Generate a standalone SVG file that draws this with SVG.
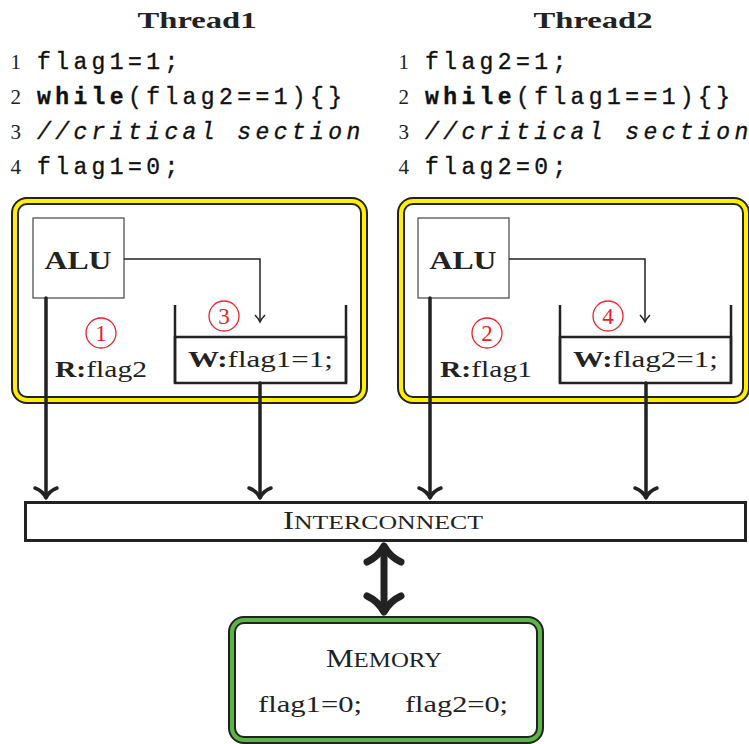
<svg xmlns="http://www.w3.org/2000/svg" width="749" height="744" viewBox="0 0 749 744">
<style>
.title{font-family:"Liberation Serif",serif;font-weight:bold;font-size:23px;fill:#222}
.ln{font-family:"Liberation Serif",serif;font-size:21px;fill:#222;text-anchor:end}
.code{font-family:"Liberation Mono",monospace;font-size:23px;letter-spacing:4.4px;fill:#111;stroke:#111;stroke-width:0.35}
.kw{font-weight:bold}
.cm{font-style:italic}
.lbl{font-family:"Liberation Serif",serif;font-size:23px;fill:#222}
.b{font-weight:bold}
.alu{font-family:"Liberation Serif",serif;font-weight:bold;font-size:25px;fill:#222}
.num{font-family:"Liberation Serif",serif;font-size:23px;fill:#e8202a;text-anchor:middle}
.circ{fill:none;stroke:#e8202a;stroke-width:1.3}
.outer{fill:none;stroke:#222;stroke-width:8}
.yel{fill:none;stroke:#fff000;stroke-width:4}
.grn{fill:none;stroke:#5ab546;stroke-width:4}
.alubox{fill:#fff;stroke:#444;stroke-width:1.2}
.buf{fill:none;stroke:#222;stroke-width:2.5}
.thin{fill:none;stroke:#222;stroke-width:1.5}
.thick{fill:none;stroke:#222;stroke-width:3.5;stroke-linecap:round;stroke-linejoin:round}
.huge{fill:none;stroke:#222;stroke-width:7;stroke-linecap:round;stroke-linejoin:round}
.sc{font-family:"Liberation Serif",serif;font-size:25px;fill:#222}
</style>
<rect width="749" height="744" fill="#fff"/>

<g id="thread1">
  <text class="title" x="197" y="28" text-anchor="middle" textLength="119" lengthAdjust="spacingAndGlyphs">Thread1</text>
  <text class="ln" x="21" y="69">1</text>
  <text class="code" x="37" y="69">flag1=1;</text>
  <text class="ln" x="21" y="104">2</text>
  <text class="code" x="37" y="104"><tspan class="kw">while</tspan>(flag2==1){}</text>
  <text class="ln" x="21" y="139">3</text>
  <text class="code cm" x="37" y="139">//critical section</text>
  <text class="ln" x="21" y="174">4</text>
  <text class="code" x="37" y="174">flag1=0;</text>
  <rect class="outer" x="15" y="201" width="349" height="199" rx="12"/>
  <rect class="yel" x="15" y="201" width="349" height="199" rx="12"/>
  <rect class="alubox" x="33" y="218" width="91" height="80"/>
  <text class="alu" x="78" y="269" text-anchor="middle" textLength="67" lengthAdjust="spacingAndGlyphs">ALU</text>
  <path class="buf" d="M175,305 V383 M346,305 V383"/>
  <rect class="buf" x="175" y="337" width="171" height="46"/>
  <text class="lbl" x="188" y="367" textLength="145" lengthAdjust="spacingAndGlyphs"><tspan class="b">W:</tspan>flag1=1;</text>
  <text class="lbl" x="55" y="377" textLength="92" lengthAdjust="spacingAndGlyphs"><tspan class="b">R:</tspan>flag2</text>
  <circle class="circ" cx="101" cy="333" r="15"/>
  <text class="num" x="101" y="341">1</text>
  <circle class="circ" cx="224" cy="316" r="15"/>
  <text class="num" x="224" y="324">3</text>
</g>

<g id="thread2">
  <text class="title" x="593" y="28" text-anchor="middle" textLength="119" lengthAdjust="spacingAndGlyphs">Thread2</text>
  <text class="ln" x="409" y="69">1</text>
  <text class="code" x="425" y="69">flag2=1;</text>
  <text class="ln" x="409" y="104">2</text>
  <text class="code" x="425" y="104"><tspan class="kw">while</tspan>(flag1==1){}</text>
  <text class="ln" x="409" y="139">3</text>
  <text class="code cm" x="425" y="139">//critical section</text>
  <text class="ln" x="409" y="174">4</text>
  <text class="code" x="425" y="174">flag2=0;</text>
  <rect class="outer" x="401" y="201" width="345" height="199" rx="12"/>
  <rect class="yel" x="401" y="201" width="345" height="199" rx="12"/>
  <rect class="alubox" x="418" y="218" width="91" height="80"/>
  <text class="alu" x="463" y="269" text-anchor="middle" textLength="67" lengthAdjust="spacingAndGlyphs">ALU</text>
  <path class="buf" d="M560,305 V383 M731,305 V383"/>
  <rect class="buf" x="560" y="337" width="171" height="46"/>
  <text class="lbl" x="573" y="367" textLength="145" lengthAdjust="spacingAndGlyphs"><tspan class="b">W:</tspan>flag2=1;</text>
  <text class="lbl" x="440" y="377" textLength="92" lengthAdjust="spacingAndGlyphs"><tspan class="b">R:</tspan>flag1</text>
  <circle class="circ" cx="487" cy="333" r="15"/>
  <text class="num" x="487" y="341">2</text>
  <circle class="circ" cx="608" cy="316" r="15"/>
  <text class="num" x="608" y="324">4</text>
</g>

<g id="interconnect">
  <rect x="25.5" y="502.5" width="720" height="38" fill="#fff" stroke="#222" stroke-width="3"/>
  <text class="sc" x="283" y="529" textLength="200" lengthAdjust="spacingAndGlyphs">I<tspan font-size="19.5">NTERCONNECT</tspan></text>
</g>

<g id="memory">
  <rect class="outer" x="232" y="620" width="308" height="120" rx="12"/>
  <rect class="grn" x="232" y="620" width="308" height="120" rx="12"/>
  <text class="sc" x="326" y="667" textLength="116" lengthAdjust="spacingAndGlyphs">M<tspan font-size="20">EMORY</tspan></text>
  <text class="lbl" x="258" y="712" textLength="104" lengthAdjust="spacingAndGlyphs">flag1=0;</text>
  <text class="lbl" x="405" y="712" textLength="103" lengthAdjust="spacingAndGlyphs">flag2=0;</text>
</g>

<g id="connectors">
  <path class="thin" d="M124,259 H260 V321"/>
  <path class="thin" d="M255,315 Q258,318 260,322 Q262,318 265,315"/>
  <path class="thin" d="M509,259 H645 V321"/>
  <path class="thin" d="M640,315 Q643,318 645,322 Q647,318 650,315"/>
  <path class="thick" d="M46,298 V497 M260,383 V497 M430,298 V497 M646,383 V497"/>
  <path class="thick" d="M35,488 Q43,491 46,498 Q49,491 57,488"/>
  <path class="thick" d="M249,488 Q257,491 260,498 Q263,491 271,488"/>
  <path class="thick" d="M419,488 Q427,491 430,498 Q433,491 441,488"/>
  <path class="thick" d="M635,488 Q643,491 646,498 Q649,491 657,488"/>
  <path class="huge" d="M384,548 V610"/>
  <path class="huge" d="M367,562 Q378,557 384,546 Q390,557 401,562"/>
  <path class="huge" d="M367,596 Q378,601 384,612 Q390,601 401,596"/>
</g>
</svg>
